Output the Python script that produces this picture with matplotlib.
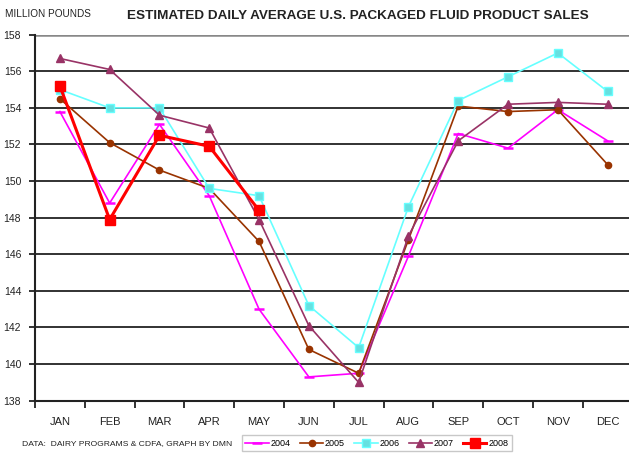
import matplotlib
matplotlib.use("Agg")
import matplotlib.pyplot as plt
from matplotlib.ticker import FixedLocator, NullFormatter

plt.rcParams["font.family"] = ["Liberation Sans", "DejaVu Sans"]

months = ["JAN", "FEB", "MAR", "APR", "MAY", "JUN", "JUL", "AUG", "SEP", "OCT", "NOV", "DEC"]

sales_2004 = [153.8, 148.8, 153.1, 149.2, 143.0, 139.3, 139.5, 145.9, 152.6, 151.8, 153.9, 152.2]
sales_2005 = [154.5, 152.1, 150.6, 149.6, 146.7, 140.8, 139.5, 146.8, 154.1, 153.8, 153.9, 150.9]
sales_2006 = [155.0, 154.0, 154.0, 149.6, 149.2, 143.2, 140.9, 148.6, 154.4, 155.7, 157.0, 154.9]
sales_2007 = [156.7, 156.1, 153.6, 152.9, 147.9, 142.1, 139.0, 147.0, 152.2, 154.2, 154.3, 154.2]
sales_2008 = [155.2, 147.9, 152.5, 151.9, 148.4]

fig = plt.figure(figsize=(6.29, 4.57), dpi=100)
ax = fig.add_axes([0.0556, 0.1232, 0.95, 0.8009])

x = list(range(len(months)))

ax.plot(x, sales_2004, color="#FF00FF", lw=1.2, marker="_", ms=7, mew=1.8, label="2004")
ax.plot(x, sales_2005, color="#993300", lw=1.2, marker="o", ms=4.5, label="2005")
ax.plot(x, sales_2006, color="#66FFFF", lw=1.2, marker="s", ms=6, mfc="#66E0E0",
        mec="#66FFFF", label="2006")
ax.plot(x, sales_2007, color="#993366", lw=1.2, marker="^", ms=5.5, label="2007")
ax.plot(x[:len(sales_2008)], sales_2008, color="#FF0000", lw=2.2, marker="s", ms=7,
        label="2008", zorder=5)

ax.set_xlim(-0.5, 11.5)
ax.set_ylim(138, 158)

ax.set_yticks(range(138, 159, 2))
for v in range(140, 158, 2):
    ax.axhline(v, color="#222222", lw=1.3, zorder=0)
ax.axhline(158, color="#888888", lw=1.8, zorder=0)

ax.set_xticks(x)
ax.set_xticklabels(months)
ax.xaxis.set_minor_locator(FixedLocator([i - 0.5 for i in range(13)]))
ax.xaxis.set_minor_formatter(NullFormatter())
ax.tick_params(axis="x", which="major", length=0, pad=12, labelsize=8, colors="#222222")
ax.tick_params(axis="x", which="minor", length=5, width=1.3, direction="out", color="#222222")
ax.tick_params(axis="y", length=4, width=1.3, direction="out", labelsize=7.5,
               colors="#222222", pad=6)

for side in ["top", "right"]:
    ax.spines[side].set_visible(False)
ax.spines["left"].set_linewidth(1.5)
ax.spines["bottom"].set_linewidth(1.5)
ax.spines["left"].set_color("#222222")
ax.spines["bottom"].set_color("#222222")

fig.text(0.008, 0.970, "MILLION POUNDS", fontsize=7.2, color="#222222", va="center")
fig.text(0.569, 0.965, "ESTIMATED DAILY AVERAGE U.S. PACKAGED FLUID PRODUCT SALES",
         fontsize=9.7, fontweight="bold", color="#222222", ha="center", va="center")
fig.text(0.035, 0.030, "DATA:  DAIRY PROGRAMS & CDFA, GRAPH BY DMN", fontsize=6.1,
         color="#222222", va="center")

leg = fig.legend(loc="center", bbox_to_anchor=(0.599, 0.030), ncol=5, fontsize=6.5,
                 frameon=True, handlelength=2.6, handletextpad=0.2, columnspacing=1.0,
                 borderpad=0.4, fancybox=False, edgecolor="#BBBBBB")
leg.get_frame().set_linewidth(1.0)

fig.savefig("out.png", dpi=100)
